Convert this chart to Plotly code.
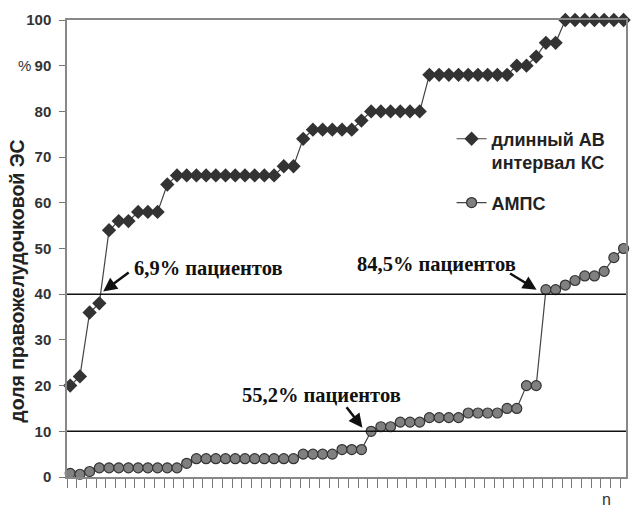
import plotly.graph_objects as go

n_patients = list(range(58))
av_interval = [20, 22, 36, 38, 54, 56, 56, 58, 58, 58, 64,
               66, 66, 66, 66, 66, 66, 66, 66, 66, 66, 66,
               68, 68, 74, 76, 76, 76, 76, 76, 78,
               80, 80, 80, 80, 80, 80,
               88, 88, 88, 88, 88, 88, 88, 88, 88,
               90, 90, 92, 95, 95,
               100, 100, 100, 100, 100, 100, 100]
ampc = [0.8, 0.6, 1.2, 2, 2, 2, 2, 2, 2, 2, 2, 2, 3,
        4, 4, 4, 4, 4, 4, 4, 4, 4, 4, 4,
        5, 5, 5, 5, 6, 6, 6,
        10, 11, 11, 12, 12, 12, 13, 13, 13, 13,
        14, 14, 14, 14, 15, 15, 20, 20,
        41, 41, 42, 43, 44, 44, 45, 48, 50]
threshold_lines = [40, 10]
y_ticks = list(range(0, 101, 10))
callouts = ["6,9% пациентов", "84,5% пациентов", "55,2% пациентов"]

SANS = "Liberation Sans"
SERIF = "Liberation Serif"

fig = go.Figure()
fig.add_trace(go.Scatter(
    x=n_patients, y=av_interval, mode="lines+markers",
    name="<b>длинный АВ<br>интервал КС</b>", legendgroup="a",
    line=dict(color="#444444", width=1.2),
    marker=dict(symbol="diamond", size=11, color="#333333"),
    cliponaxis=False))
fig.add_trace(go.Scatter(
    x=n_patients, y=ampc, mode="lines+markers",
    name="<b>АМПС</b>", legendgroup="b",
    line=dict(color="#444444", width=1.2),
    marker=dict(symbol="circle", size=10, color="#808080",
                line=dict(color="#333333", width=1.2)),
    cliponaxis=False))

for yv in threshold_lines:
    fig.add_hline(y=yv, line=dict(color="#111111", width=1.5))

text_font = dict(family=SERIF, size=20.5, color="#111111", weight="bold")
# callout texts
fig.add_annotation(x=6.37, y=45.8, text=callouts[0], showarrow=False,
                   xanchor="left", yanchor="middle", font=text_font)
fig.add_annotation(x=29.37, y=46.5, text=callouts[1], showarrow=False,
                   xanchor="left", yanchor="middle", font=text_font)
fig.add_annotation(x=17.48, y=18.05, text=callouts[2], showarrow=False,
                   xanchor="left", yanchor="middle", font=text_font)
# arrows
arrow_style = dict(showarrow=True, arrowhead=2, arrowsize=1.1, arrowwidth=2.5,
                   arrowcolor="#111111", text="")
fig.add_annotation(x=3.4, y=40.6, ax=27, ay=-20, **arrow_style)
fig.add_annotation(x=48.04, y=41.0, ax=-28, ay=-17, **arrow_style)
fig.add_annotation(x=30.1, y=10.8, ax=-17, ay=-22, **arrow_style)

fig.add_annotation(xref="paper", yref="y", x=-0.076, y=90, text="%",
                   showarrow=False, xanchor="center",
                   font=dict(family=SANS, size=15, color="#333333"))
fig.add_annotation(xref="paper", yref="paper", x=-0.089, y=0.428,
                   text="доля правожелудочковой ЭС", textangle=-90,
                   showarrow=False, xanchor="center", yanchor="middle",
                   font=dict(family=SANS, size=19.5, color="#222222", weight="bold"))
fig.add_annotation(xref="paper", yref="paper", x=0.977, y=-0.05, text="n",
                   showarrow=False, yanchor="middle",
                   font=dict(family=SANS, size=16, color="#333333"))

fig.update_xaxes(range=[-0.33, 57.25], tickvals=[k - 0.33 for k in range(58)],
                 showticklabels=False, ticks="outside", ticklen=9,
                 tickcolor="#777777", showgrid=False, zeroline=False,
                 showline=True, linecolor="#888888", linewidth=1.5, mirror=True)
fig.update_yaxes(range=[0, 100], tickvals=y_ticks, ticks="outside", ticklen=6,
                 tickcolor="#777777", showgrid=False, zeroline=False,
                 showline=True, linecolor="#888888", linewidth=1.5, mirror=True,
                 tickfont=dict(family=SANS, size=15, color="#333333", weight="bold"),
                 ticklabelstandoff=5)

fig.update_layout(
    width=631, height=508,
    margin=dict(l=67, r=3, t=20, b=31),
    paper_bgcolor="white", plot_bgcolor="white",
    showlegend=True,
    legend=dict(x=0.688, y=0.78, xanchor="left", yanchor="top",
                bgcolor="rgba(0,0,0,0)", valign="top", tracegroupgap=14,
                font=dict(family=SANS, size=18, color="#222222")),
)

fig.write_html("out.html", config={"displayModeBar": False},
               post_script="document.body.style.margin='0';")
